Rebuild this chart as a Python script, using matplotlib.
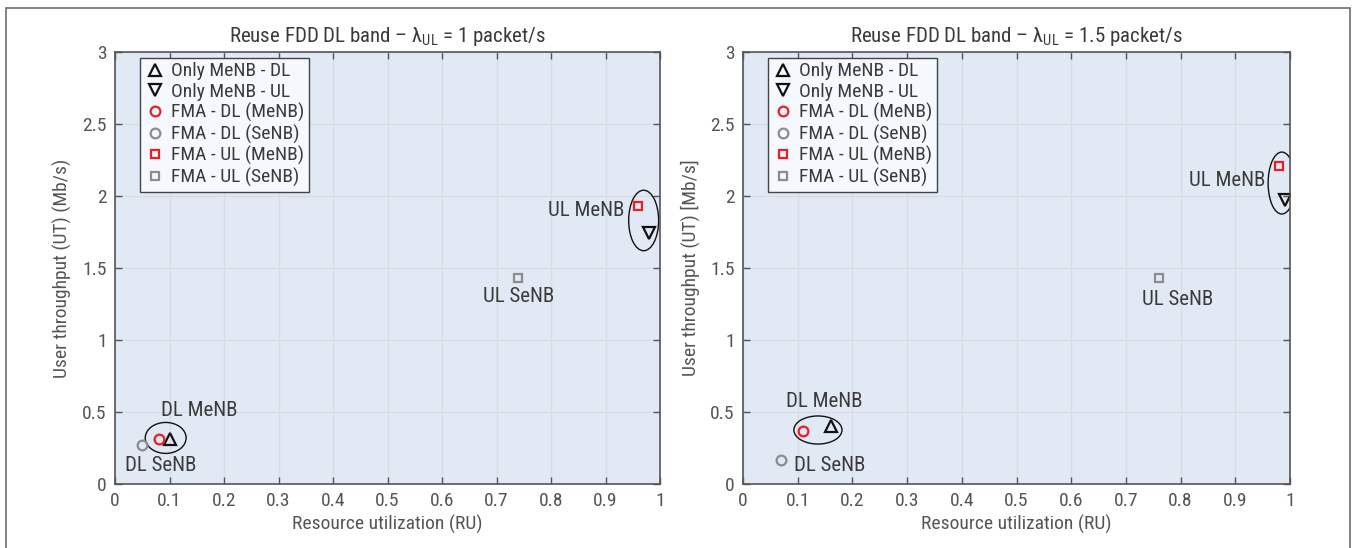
import matplotlib
matplotlib.use("Agg")
import matplotlib.pyplot as plt
from matplotlib.patches import Ellipse, Rectangle
from matplotlib import font_manager

_installed = {f.name for f in font_manager.fontManager.ttflist}
_families = [f for f in ['Liberation Sans Narrow', 'Roboto Condensed', 'Open Sans Condensed',
                         'Liberation Sans', 'DejaVu Sans'] if f in _installed]
plt.rcParams['font.family'] = _families
plt.rcParams['mathtext.fontset'] = 'custom'
plt.rcParams['mathtext.rm'] = _families[0]

TXT = '#3a3a3a'
AXC = '#555555'

series_names = ['Only MeNB - DL', 'Only MeNB - UL', 'FMA - DL (MeNB)',
                'FMA - DL (SeNB)', 'FMA - UL (MeNB)', 'FMA - UL (SeNB)']

# lambda_UL = 1 packet/s
ru_1 = [0.10, 0.98, 0.08, 0.05, 0.96, 0.74]
ut_1 = [0.31, 1.74, 0.31, 0.27, 1.93, 1.43]

# lambda_UL = 1.5 packet/s
ru_15 = [0.16, 0.99, 0.11, 0.07, 0.98, 0.76]
ut_15 = [0.40, 1.97, 0.37, 0.17, 2.21, 1.43]

titles = ['Reuse FDD DL band – λ$_{\\mathrm{UL}}$ = 1 packet/s',
          'Reuse FDD DL band – λ$_{\\mathrm{UL}}$ = 1.5 packet/s']
ylabels = ['User throughput (UT) (Mb/s)', 'User throughput (UT) [Mb/s]']

styles = [
    dict(marker='^', mec='#111111', ms=8),
    dict(marker='v', mec='#111111', ms=8),
    dict(marker='o', mec='#ee1c24', ms=7),
    dict(marker='o', mec='#8c8c8c', ms=7),
    dict(marker='s', mec='#ee1c24', ms=6),
    dict(marker='s', mec='#8c8c8c', ms=6),
]

fig = plt.figure(figsize=(13.58, 5.48), dpi=100)
fig.patches.append(Rectangle((6 / 1358, -0.01), (1350 - 6) / 1358, 1 - 8 / 548 + 0.01,
                             transform=fig.transFigure, fill=False,
                             edgecolor='#6e6e6e', linewidth=1.2))

ax1 = fig.add_axes([115 / 1358, 1 - 484 / 548, 545 / 1358, 432 / 548])
ax2 = fig.add_axes([743 / 1358, 1 - 484 / 548, 547 / 1358, 432 / 548])

def draw(ax, ru, ut, title, ylabel, ellipses, labels):
    ax.set_facecolor('#e1e9f5')
    for x, y, st, name in zip(ru, ut, styles, series_names):
        ax.plot([x], [y], linestyle='none', mfc='none', mew=1.6, label=name, **st)
    for (cx, cy, w, h) in ellipses:
        ax.add_patch(Ellipse((cx, cy), w, h, fill=False, edgecolor='#111111', linewidth=1.0))
    for (tx, ty, s) in labels:
        ax.text(tx, ty, s, ha='center', va='center', fontsize=15, color=TXT)
    ax.set_xlim(0, 1)
    ax.set_ylim(0, 3)
    ax.set_xticks([i / 10 for i in range(11)])
    ax.set_xticklabels(['0', '0.1', '0.2', '0.3', '0.4', '0.5', '0.6', '0.7', '0.8', '0.9', '1'])
    ax.set_yticks([0, 0.5, 1, 1.5, 2, 2.5, 3])
    ax.set_yticklabels(['0', '0.5', '1', '1.5', '2', '2.5', '3'])
    ax.grid(True, color='#d9dde3', linewidth=1.0)
    ax.set_axisbelow(True)
    ax.tick_params(direction='in', top=True, right=True, length=5, width=1.0,
                   labelsize=14, labelcolor=AXC, color=AXC, pad=6)
    for sp in ax.spines.values():
        sp.set_color(AXC)
        sp.set_linewidth(1.2)
    ax.set_title(title, fontsize=15, color=TXT, pad=7)
    ax.set_xlabel('Resource utilization (RU)', fontsize=14, color=AXC, labelpad=3)
    ax.set_ylabel(ylabel, fontsize=14, color=AXC, labelpad=7)
    leg = ax.legend(loc='upper left', bbox_to_anchor=(0.045, 0.987), fontsize=14,
                    frameon=True, fancybox=False, handletextpad=0.25, borderpad=0.25,
                    labelspacing=0.12, handlelength=1.1, borderaxespad=0.0)
    leg.get_frame().set_edgecolor('#444444')
    leg.get_frame().set_facecolor('#f5f8fc')
    leg.get_frame().set_alpha(1)
    leg.get_frame().set_linewidth(1.0)
    for t in leg.get_texts():
        t.set_color(TXT)

draw(ax1, ru_1, ut_1, titles[0], ylabels[0],
     ellipses=[(0.093, 0.32, 0.075, 0.215), (0.97, 1.83, 0.055, 0.42)],
     labels=[(0.155, 0.51, 'DL MeNB'), (0.083, 0.13, 'DL SeNB'),
             (0.865, 1.9, 'UL MeNB'), (0.74, 1.3, 'UL SeNB')])
draw(ax2, ru_15, ut_15, titles[1], ylabels[1],
     ellipses=[(0.137, 0.375, 0.088, 0.195), (0.985, 2.09, 0.05, 0.43)],
     labels=[(0.148, 0.57, 'DL MeNB'), (0.158, 0.13, 'DL SeNB'),
             (0.885, 2.11, 'UL MeNB'), (0.795, 1.28, 'UL SeNB')])

fig.savefig('out.png', dpi=100)
